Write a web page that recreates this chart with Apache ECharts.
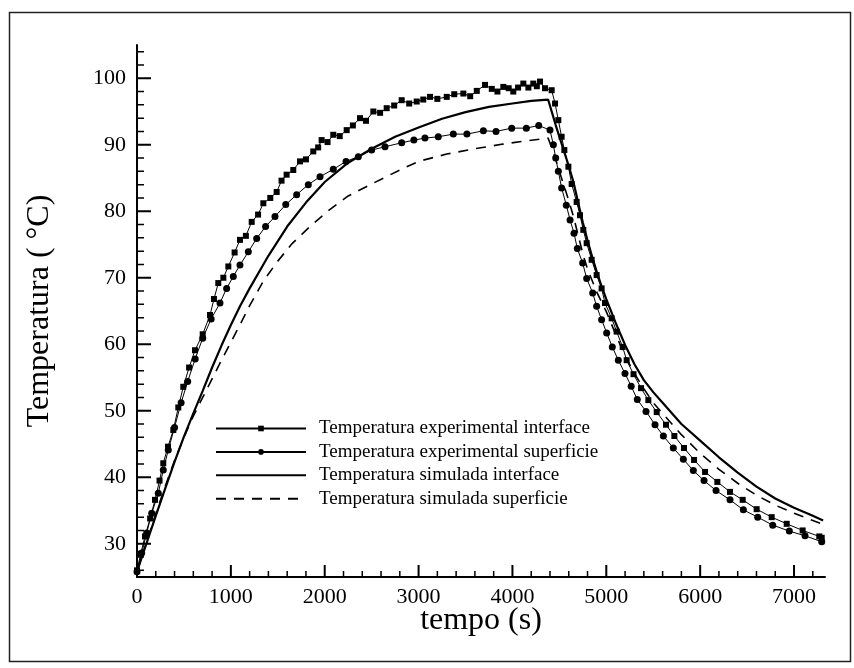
<!DOCTYPE html>
<html>
<head>
<meta charset="utf-8">
<script src="https://cdn.jsdelivr.net/npm/echarts@6/dist/echarts.min.js"></script>
<style>
  html, body { margin: 0; padding: 0; background: #fff; }
  #chart { width: 854px; height: 668px; }
</style>
</head>
<body>
<div id="chart"></div>
<script>
// experimental interface (squares)
const eiTime = [0, 40, 85, 140, 192, 240, 280, 330, 387, 440, 493, 555, 618, 700, 778, 820, 866, 920, 973, 1040,
  1097, 1160, 1222, 1290, 1346, 1420, 1488, 1540, 1594, 1665, 1737, 1800, 1878, 1930, 1967, 2030, 2091, 2160, 2234, 2300,
  2376, 2440, 2518, 2590, 2660, 2740, 2820, 2900, 2980, 3050, 3122, 3200, 3300, 3380, 3477, 3550, 3620, 3708, 3780, 3840,
  3903, 3960, 4009, 4060, 4116, 4170, 4222, 4260, 4294, 4347, 4418, 4454, 4489, 4524, 4553, 4596, 4631, 4684, 4720, 4755,
  4791, 4844, 4897, 4950, 4986, 5057, 5110, 5174, 5217, 5290, 5370, 5448, 5537, 5636, 5725, 5828, 5935, 6052, 6183, 6318,
  6453, 6602, 6762, 6922, 7092, 7269, 7295];
const eiTemp = [26.0, 28.5, 31.1, 33.8, 36.6, 39.5, 42.1, 44.6, 47.1, 50.5, 53.6, 56.5, 59.1, 61.5, 64.4, 66.8, 69.2, 70.0, 71.7, 73.8,
  75.7, 76.3, 78.4, 79.5, 81.2, 82.0, 82.9, 84.6, 85.5, 86.2, 87.5, 87.8, 89.0, 89.6, 90.7, 90.4, 91.5, 91.3, 92.2, 92.9,
  94.0, 93.6, 95.0, 94.8, 95.5, 95.9, 96.7, 96.2, 96.5, 96.8, 97.2, 96.9, 97.2, 97.6, 97.7, 97.3, 98.1, 99.0, 98.4, 98.0,
  98.7, 98.5, 98.0, 98.6, 99.2, 98.6, 99.2, 98.8, 99.5, 98.5, 98.2, 96.2, 93.7, 91.2, 89.2, 86.7, 84.1, 81.4, 79.4, 77.2,
  75.2, 72.7, 70.4, 68.4, 66.2, 63.9, 61.9, 59.6, 57.6, 55.5, 53.4, 51.6, 49.8, 47.9, 46.2, 44.4, 42.6, 40.8, 39.3, 37.8,
  36.6, 35.2, 34.0, 33.0, 32.0, 31.1, 30.9];

// experimental superficie (circles)
const esTime = [0, 50, 103, 157, 227, 280, 333, 400, 470, 540, 620, 700, 790, 884, 955, 1026, 1097, 1186, 1275, 1370,
  1470, 1585, 1701, 1825, 1950, 2091, 2227, 2358, 2500, 2642, 2820, 2950, 3068, 3210, 3370, 3515, 3690, 3825, 3992, 4148,
  4280, 4400, 4436, 4461, 4489, 4524, 4574, 4614, 4656, 4691, 4748, 4791, 4855, 4897, 4950, 5004, 5064, 5128, 5199, 5265,
  5330, 5423, 5519, 5608, 5714, 5821, 5927, 6041, 6169, 6318, 6460, 6613, 6773, 6950, 7117, 7295];
const esTemp = [25.8, 28.6, 31.6, 34.6, 37.6, 41.1, 44.1, 47.5, 51.2, 54.4, 57.8, 60.9, 63.8, 66.2, 68.4, 70.2, 71.9, 73.9, 75.9, 77.7,
  79.2, 81.0, 82.5, 84.0, 85.2, 86.3, 87.5, 88.2, 89.2, 89.7, 90.3, 90.7, 91.0, 91.2, 91.6, 91.6, 92.1, 92.0, 92.5, 92.5,
  92.9, 92.2, 90.0, 88.0, 86.0, 83.5, 80.9, 78.7, 76.7, 74.4, 72.2, 69.9, 67.7, 65.7, 63.7, 61.7, 59.6, 57.6, 55.6, 53.7,
  51.7, 49.9, 47.9, 46.2, 44.4, 42.7, 41.0, 39.5, 38.0, 36.6, 35.1, 34.0, 32.8, 31.9, 31.2, 30.3];

// simulated interface (solid)
const siTime = [0, 100, 200, 300, 400, 500, 600, 700, 800, 900, 1000, 1100, 1200, 1400, 1600, 1800, 2000, 2250, 2500, 2750,
  3000, 3250, 3500, 3750, 4000, 4200, 4380, 4420, 4460, 4500, 4550, 4600, 4650, 4700, 4750, 4800, 4850, 4900, 4950, 5000,
  5100, 5200, 5300, 5400, 5500, 5600, 5800, 6000, 6200, 6400, 6600, 6800, 7000, 7200, 7310];
const siTemp = [25.8, 30.0, 34.2, 38.3, 42.3, 46.1, 49.6, 53.0, 56.5, 59.8, 62.9, 65.8, 68.4, 73.3, 77.7, 81.3, 84.4, 87.3, 89.4, 91.2,
  92.6, 93.9, 94.9, 95.7, 96.2, 96.6, 96.8, 94.9, 93.0, 91.2, 89.0, 86.8, 84.4, 81.3, 78.3, 75.6, 73.1, 70.8, 68.7, 66.8,
  63.2, 59.9, 57.0, 54.6, 52.8, 51.2, 48.0, 45.5, 43.0, 40.7, 38.6, 36.8, 35.4, 34.2, 33.5];

// simulated superficie (dashed)
const ssTime = [0, 100, 200, 300, 400, 500, 600, 700, 800, 900, 1000, 1100, 1200, 1350, 1500, 1650, 1850, 2050, 2250, 2500,
  2800, 3000, 3300, 3600, 3900, 4100, 4380, 4420, 4460, 4500, 4550, 4600, 4650, 4700, 4750, 4800, 4900, 5000, 5100, 5200,
  5300, 5400, 5500, 5600, 5800, 6000, 6200, 6400, 6600, 6800, 7000, 7200, 7310];
const ssTemp = [25.8, 30.2, 34.5, 38.6, 42.5, 46.0, 49.2, 52.0, 54.8, 57.6, 60.3, 63.0, 65.8, 69.6, 72.5, 75.1, 77.8, 80.2, 82.3, 84.1,
  86.2, 87.5, 88.6, 89.4, 90.1, 90.5, 91.0, 89.5, 87.8, 86.0, 83.8, 81.6, 79.2, 76.4, 73.6, 71.3, 67.8, 64.9, 61.5, 58.2,
  55.6, 53.3, 51.2, 49.6, 46.4, 43.6, 41.2, 39.1, 37.3, 35.8, 34.6, 33.5, 32.9];

// axis ticks
const xMajor = [0, 1000, 2000, 3000, 4000, 5000, 6000, 7000];
const xMinor = [200, 400, 600, 800, 1200, 1400, 1600, 1800, 2200, 2400, 2600, 2800, 3200, 3400, 3600, 3800,
  4200, 4400, 4600, 4800, 5200, 5400, 5600, 5800, 6200, 6400, 6600, 6800, 7200];
const yMajor = [30, 40, 50, 60, 70, 80, 90, 100];
const yMinor = [26, 28, 32, 34, 36, 38, 42, 44, 46, 48, 52, 54, 56, 58, 62, 64, 66, 68, 72, 74, 76, 78,
  82, 84, 86, 88, 92, 94, 96, 98, 102, 104];

const names = ['Temperatura experimental interface', 'Temperatura experimental superficie',
  'Temperatura simulada interface', 'Temperatura simulada superficie'];

const X_MIN = 0, X_MAX = 7330, Y_MIN = 25, Y_MAX = 105;
const GRID = { left: 137, right: 29, top: 45, bottom: 91 };
const W = 854, H = 668;

const zip = (a, b) => a.map((t, i) => [t, b[i]]);
const serif = 'Liberation Serif, Times New Roman, serif';

// inward ticks as short broken line segments drawn on the axes' own scales
const pxPerX = (W - GRID.left - GRID.right) / (X_MAX - X_MIN);
const pxPerY = (H - GRID.top - GRID.bottom) / (Y_MAX - Y_MIN);
function tickSeries(values, dir, lenPx, width) {
  const data = [];
  values.forEach(v => {
    if (dir === 'x') {
      data.push([v, Y_MIN], [v, Y_MIN + lenPx / pxPerY], ['-', '-']);
    } else {
      data.push([X_MIN, v], [X_MIN + lenPx / pxPerX, v], ['-', '-']);
    }
  });
  return {
    type: 'line',
    data: data,
    symbol: 'none',
    connectNulls: false,
    silent: true,
    clip: false,
    z: 10,
    lineStyle: { color: '#000', width: width },
    emphasis: { disabled: true }
  };
}

const chart = echarts.init(document.getElementById('chart'));

const option = {
  animation: false,
  backgroundColor: '#fff',
  graphic: [{
    type: 'rect',
    shape: { x: 9.5, y: 12.5, width: 841, height: 649 },
    style: { fill: 'none', stroke: '#222', lineWidth: 1.5 },
    silent: true
  }],
  grid: { left: GRID.left, right: GRID.right, top: GRID.top, bottom: GRID.bottom, outerBoundsMode: 'none' },
  legend: {
    data: [
      { name: names[0] },
      { name: names[1] },
      { name: names[2], itemStyle: { opacity: 0 } },
      { name: names[3], itemStyle: { opacity: 0 } }
    ],
    orient: 'vertical',
    left: 210,
    top: 414,
    itemWidth: 90,
    itemHeight: 7,
    itemGap: 4.4,
    textStyle: { fontFamily: serif, fontSize: 19, color: '#000', padding: [0, 0, 0, 8] }
  },
  xAxis: {
    type: 'value', min: X_MIN, max: X_MAX,
    splitLine: { show: false },
    name: 'tempo (s)',
    nameLocation: 'middle',
    nameGap: 44,
    nameMoveOverlap: false,
    nameTextStyle: { fontFamily: serif, fontSize: 32, color: '#000', verticalAlign: 'middle' },
    axisLine: { show: true, lineStyle: { color: '#000', width: 2 } },
    axisTick: { show: false },
    axisLabel: {
      show: true, margin: 9, customValues: xMajor, fontFamily: serif, fontSize: 22, color: '#000',
      formatter: v => String(v)
    }
  },
  yAxis: {
    type: 'value', min: Y_MIN, max: Y_MAX,
    splitLine: { show: false },
    name: 'Temperatura ( °C)',
    nameLocation: 'middle',
    nameRotate: 90,
    nameGap: 81,
    nameMoveOverlap: false,
    nameTextStyle: { fontFamily: serif, fontSize: 32, color: '#000' },
    axisLine: { show: true, lineStyle: { color: '#000', width: 2 } },
    axisTick: { show: false },
    axisLabel: {
      show: true, margin: 11, customValues: yMajor, fontFamily: serif, fontSize: 22, color: '#000',
      formatter: v => String(v)
    }
  },
  series: [
    {
      name: names[0], type: 'line', data: zip(eiTime, eiTemp),
      symbol: 'rect', symbolSize: 6, showSymbol: true,
      lineStyle: { color: '#000', width: 1 }, itemStyle: { color: '#000' }, z: 4
    },
    {
      name: names[1], type: 'line', data: zip(esTime, esTemp),
      symbol: 'circle', symbolSize: 7, showSymbol: true,
      lineStyle: { color: '#000', width: 1 }, itemStyle: { color: '#000' }, z: 4
    },
    {
      name: names[2], type: 'line', data: zip(siTime, siTemp),
      symbol: 'none',
      lineStyle: { color: '#000', width: 2.2 }, itemStyle: { color: '#000' }, z: 3
    },
    {
      name: names[3], type: 'line', data: zip(ssTime, ssTemp),
      symbol: 'none',
      lineStyle: { color: '#000', width: 1.6, type: [10, 8] }, itemStyle: { color: '#000' }, z: 3
    },
    tickSeries(xMajor, 'x', 12, 2),
    tickSeries(xMinor, 'x', 6, 1.5),
    tickSeries(yMajor, 'y', 14, 2),
    tickSeries(yMinor, 'y', 7, 1.5)
  ]
};

chart.setOption(option);
</script>
</body>
</html>
